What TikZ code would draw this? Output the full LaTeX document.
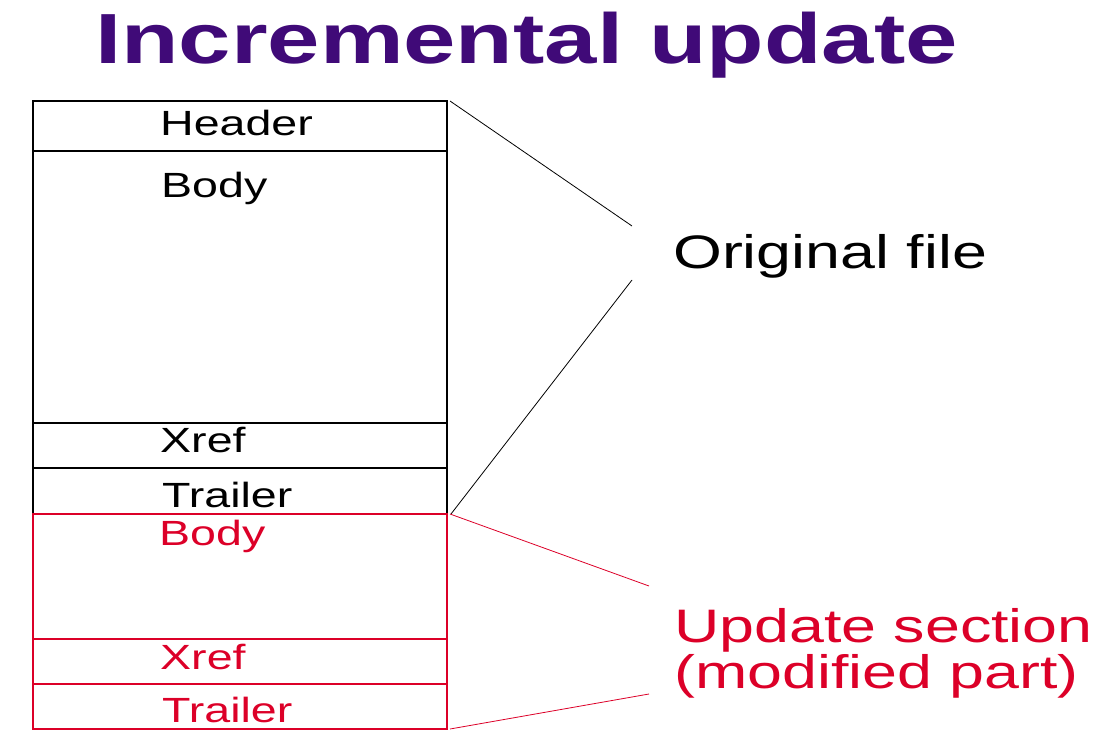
\documentclass[tikz,border=0pt]{standalone}
\usepackage{fontspec}
\setmainfont{Liberation Sans}
\newfontfamily\titlefont[FakeStretch=1.325]{Liberation Sans}
\newfontfamily\partfont[FakeStretch=1.33]{Liberation Sans}
\newfontfamily\sidefont[FakeStretch=1.335]{Liberation Sans}
\usetikzlibrary{positioning}
\definecolor{titlecol}{RGB}{64,10,120}
\definecolor{updcol}{RGB}{220,0,40}
\tikzset{
  part/.style={draw=black, minimum width=414bp, inner sep=0pt, outer sep=0pt, line width=1.1bp},
  updpart/.style={part, draw=updcol},
  partlabel/.style={anchor=base west, inner sep=0pt, font=\partfont\fontsize{35bp}{40bp}\selectfont},
  sidelabel/.style={anchor=base west, inner sep=0pt, align=left, font=\sidefont\fontsize{47bp}{46bp}\selectfont},
  link/.style={line width=0.8bp},
}
\begin{document}
\begin{tikzpicture}[x=1bp,y=-1bp,node distance=0pt]
  \useasboundingbox (0,0) rectangle (1108,751);
%%
  % Node: title
  \node[anchor=base west, inner sep=0pt, text=titlecol, font=\titlefont\bfseries\fontsize{71bp}{80bp}\selectfont] (title) at (95,64) {Incremental update};
  % Node: original file parts
  \node[part, anchor=north west, minimum height=50bp] (header) at (33,101) {};
  \node[part, minimum height=272bp, below=of header] (body) {};
  \node[part, minimum height=45bp, below=of body] (xref) {};
  \node[part, minimum height=46bp, below=of xref] (trailer) {};
  % Node: update section parts
  \node[updpart, minimum height=125bp, below=of trailer] (ubody) {};
  \node[updpart, minimum height=45bp, below=of ubody] (uxref) {};
  \node[updpart, minimum height=45bp, below=of uxref] (utrailer) {};
  % Node: part labels
  \node[partlabel] (headertext) at (160,135) {Header};
  \node[partlabel] (bodytext) at (161,197) {Body};
  \node[partlabel] (xreftext) at (160,452) {Xref};
  \node[partlabel] (trailertext) at (162,507) {Trailer};
  \begin{scope}[every node/.append style={text=updcol}]
  \node[partlabel] (ubodytext) at (159,545) {Body};
  \node[partlabel] (uxreftext) at (160,669) {Xref};
  \node[partlabel] (utrailertext) at (162,722) {Trailer};
  \end{scope}
  % Node: side labels
  \node[sidelabel] (orig) at (673,268) {Original file};
  \node[sidelabel, text=updcol] (upd) at (674,688) {Update section\\(modified part)};
  \coordinate (origtop) at (632,226);
  \coordinate (origbot) at (632,280);
  \coordinate (updtop) at (649,586);
  \coordinate (updbot) at (649,694);
%%
  % Edge: header -> orig
  \draw[link] ([xshift=3bp]header.north east) -- (origtop);
  % Edge: trailer -> orig
  \draw[link] ([xshift=4bp]trailer.south east) -- (origbot);
  % Edge: ubody -> upd
  \draw[link, updcol] ([xshift=3bp]ubody.north east) -- (updtop);
  % Edge: utrailer -> upd
  \draw[link, updcol] ([xshift=3bp]utrailer.south east) -- (updbot);
%
\end{tikzpicture}
\end{document}
